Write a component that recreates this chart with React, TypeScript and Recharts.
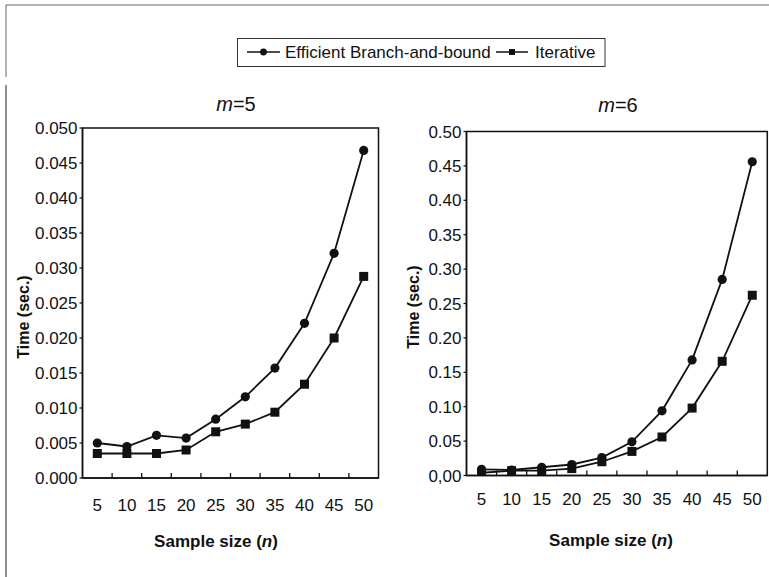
import { Line, LineChart, ReferenceArea, XAxis, YAxis } from "recharts";

const sampleSizes = [5, 10, 15, 20, 25, 30, 35, 40, 45, 50];

// m = 5
const efficientM5 = [0.005, 0.0045, 0.0061, 0.0057, 0.0084, 0.0116, 0.0157, 0.0221, 0.0321, 0.0468];
const iterativeM5 = [0.0035, 0.0035, 0.0035, 0.004, 0.0066, 0.0077, 0.0094, 0.0134, 0.02, 0.0288];
const yTicksM5 = [0, 0.005, 0.01, 0.015, 0.02, 0.025, 0.03, 0.035, 0.04, 0.045, 0.05];

// m = 6
const efficientM6 = [0.009, 0.008, 0.012, 0.016, 0.026, 0.049, 0.094, 0.168, 0.285, 0.456];
const iterativeM6 = [0.004, 0.007, 0.007, 0.01, 0.02, 0.035, 0.056, 0.098, 0.166, 0.262];
const yTicksM6 = [0, 0.05, 0.1, 0.15, 0.2, 0.25, 0.3, 0.35, 0.4, 0.45, 0.5];

const font = '"Liberation Sans", Arial, Helvetica, sans-serif';
const ink = "#111";

function SquareDot(props: any) {
  const { cx, cy } = props;
  if (cx == null || cy == null) return null;
  return <rect x={cx - 4.5} y={cy - 4.5} width={9} height={9} fill={ink} />;
}

// label under each sample size, plus a short inward tick on the band edge to its right
function renderBandTick(props: any, bandHalf: number, gap: number) {
  const x = Number(props.x);
  const y = Number(props.y);
  const value = props.payload?.value;
  const last = value === sampleSizes[sampleSizes.length - 1];
  const axisY = y - gap;
  return (
    <g key={`tick-${value}`}>
      <text x={x} y={y} dy="0.71em" textAnchor="middle" fill={ink} fontSize={17} fontFamily={font}>
        {value}
      </text>
      {!last && (
        <path d={`M${x + bandHalf},${axisY}v-5`} stroke={ink} strokeWidth={1.3} fill="none" />
      )}
    </g>
  );
}

type PanelProps = {
  left: number;
  width: number;
  top: number;
  plotBottom: number;
  yWidth: number;
  right: number;
  labelMargin: number;
  efficient: number[];
  iterative: number[];
  yMax: number;
  yTicks: number[];
  format: (v: number) => string;
};

function Panel(p: PanelProps) {
  const data = sampleSizes.map((n, i) => ({
    n,
    efficient: p.efficient[i],
    iterative: p.iterative[i],
  }));
  const axisH = 40;
  const half = (p.width - p.yWidth - p.right) / sampleSizes.length / 2;
  return (
    <div style={{ position: "absolute", left: p.left, top: 0 }}>
      <LineChart
        width={p.width}
        height={577}
        data={data}
        margin={{ top: p.top, right: p.right, left: 0, bottom: 577 - p.plotBottom - axisH }}
      >
        <XAxis
          dataKey="n"
          type="number"
          domain={[2.5, 52.5]}
          ticks={sampleSizes}
          interval={0}
          allowDataOverflow
          height={axisH}
          tickLine={false}
          tickSize={0}
          tickMargin={p.labelMargin}
          axisLine={{ stroke: ink, strokeWidth: 1.5 }}
          tick={(t: any) => renderBandTick(t, half, p.labelMargin)}
        />
        <YAxis
          type="number"
          domain={[0, p.yMax]}
          ticks={p.yTicks}
          interval={0}
          allowDataOverflow
          width={p.yWidth}
          tickSize={3}
          tickMargin={2}
          tickFormatter={p.format}
          axisLine={{ stroke: ink, strokeWidth: 1.5 }}
          tickLine={{ stroke: ink, strokeWidth: 1.2 }}
          tick={{ fill: ink, fontSize: 17, fontFamily: font }}
        />
        <ReferenceArea
          x1={2.5}
          x2={52.5}
          y1={0}
          y2={p.yMax}
          fill="none"
          fillOpacity={0}
          stroke={ink}
          strokeWidth={1.5}
          ifOverflow="visible"
        />
        <Line
          dataKey="iterative"
          stroke={ink}
          strokeWidth={1.8}
          dot={<SquareDot />}
          isAnimationActive={false}
        />
        <Line
          dataKey="efficient"
          stroke={ink}
          strokeWidth={1.8}
          dot={{ r: 4.6, fill: ink, stroke: ink, strokeWidth: 0 }}
          isAnimationActive={false}
        />
      </LineChart>
    </div>
  );
}

export default function App() {
  return (
    <div
      style={{
        position: "absolute",
        left: 0,
        top: 0,
        width: 769,
        height: 577,
        background: "#fff",
        overflow: "hidden",
        fontFamily: font,
      }}
    >
      <Panel
        left={0}
        width={390}
        top={128}
        plotBottom={478}
        yWidth={82.5}
        right={11.5}
        labelMargin={21}
        efficient={efficientM5}
        iterative={iterativeM5}
        yMax={0.05}
        yTicks={yTicksM5}
        format={(v) => v.toFixed(3)}
      />
      <Panel
        left={380}
        width={389}
        top={131.5}
        plotBottom={475.5}
        yWidth={86.5}
        right={1.7}
        labelMargin={17}
        efficient={efficientM6}
        iterative={iterativeM6}
        yMax={0.5}
        yTicks={yTicksM6}
        format={(v) => (v === 0 ? "0,00" : v.toFixed(2))}
      />
      <svg
        width={769}
        height={577}
        style={{ position: "absolute", left: 0, top: 0, pointerEvents: "none" }}
        fontFamily={font}
        fill={ink}
      >
        {/* page frame */}
        <line x1={6} y1={5} x2={769} y2={5} stroke="#666" strokeWidth={1} />
        <line x1={6} y1={5} x2={6} y2={77} stroke="#666" strokeWidth={1} />
        <line x1={6} y1={85} x2={6} y2={577} stroke="#444" strokeWidth={1.2} />

        {/* legend */}
        <rect x={237.5} y={38.5} width={367.5} height={28} fill="none" stroke="#333" strokeWidth={1} />
        <line x1={247} y1={52} x2={280} y2={52} stroke={ink} strokeWidth={1.5} />
        <circle cx={263.5} cy={52} r={3.4} fill={ink} />
        <text x={285} y={57.5} fontSize={17}>
          Efficient Branch-and-bound
        </text>
        <line x1={496} y1={52} x2={528} y2={52} stroke={ink} strokeWidth={1.5} />
        <rect x={509} y={49} width={6} height={6} fill={ink} />
        <text x={535} y={57.5} fontSize={17}>
          Iterative
        </text>

        {/* panel titles */}
        <text x={236} y={111} textAnchor="middle" fontSize={20}>
          <tspan fontStyle="italic">m</tspan>=5
        </text>
        <text x={618} y={111.5} textAnchor="middle" fontSize={20}>
          <tspan fontStyle="italic">m</tspan>=6
        </text>

        {/* axis titles */}
        <text transform="translate(28.5,317) rotate(-90)" textAnchor="middle" fontSize={16} fontWeight="bold">
          Time (sec.)
        </text>
        <text transform="translate(418.5,307) rotate(-90)" textAnchor="middle" fontSize={16} fontWeight="bold">
          Time (sec.)
        </text>
        <text x={216} y={547} textAnchor="middle" fontSize={17} fontWeight="bold">
          Sample size (<tspan fontStyle="italic">n</tspan>)
        </text>
        <text x={611} y={546} textAnchor="middle" fontSize={17} fontWeight="bold">
          Sample size (<tspan fontStyle="italic">n</tspan>)
        </text>
      </svg>
    </div>
  );
}
